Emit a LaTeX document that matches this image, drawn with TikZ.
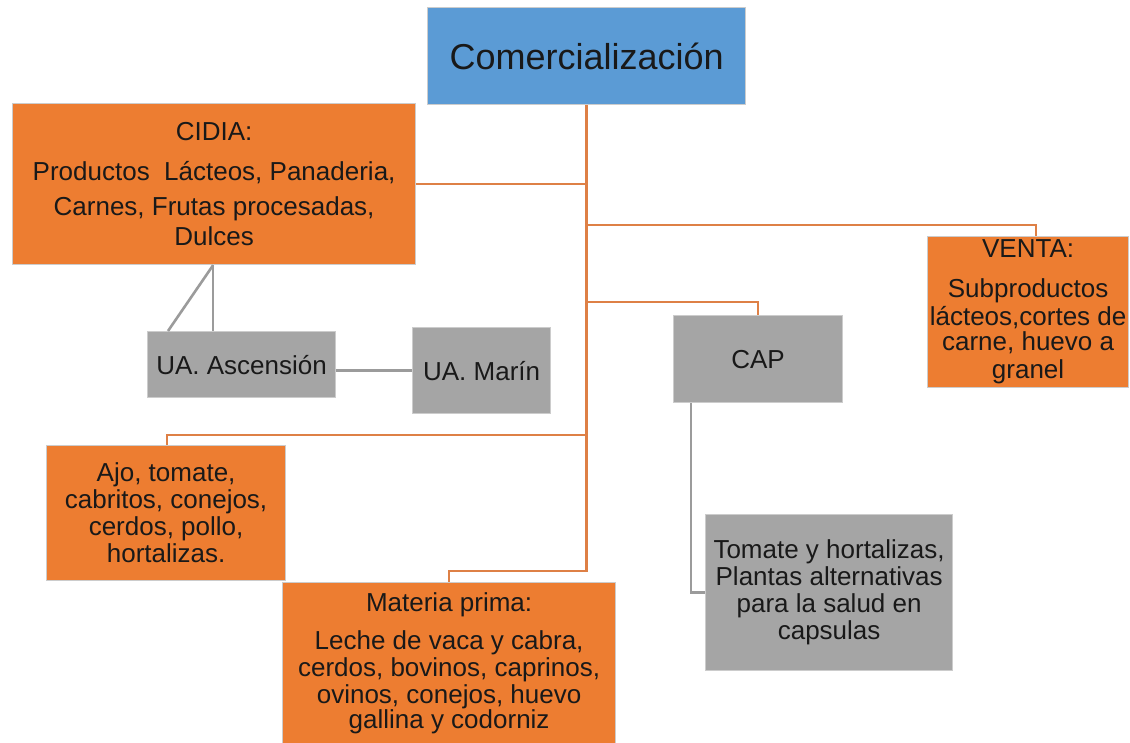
\documentclass[tikz,border=0pt]{standalone}
\usepackage{fontspec}
\setmainfont{Liberation Sans}
\usepackage{xcolor}
\usetikzlibrary{positioning,calc}
\definecolor{comblue}{RGB}{91,155,213}
\definecolor{ciorange}{RGB}{237,125,49}
\definecolor{uagray}{RGB}{165,165,165}
\definecolor{lnorange}{RGB}{222,128,70}
\definecolor{lngray}{RGB}{155,155,155}
\begin{document}
\begin{tikzpicture}[x=1pt,y=-1pt,
        box/.style={draw=black!20,line width=1.2pt,anchor=north west,
                    font=\fontsize{26}{28}\selectfont,align=center,
                    inner sep=0pt,text=black!90},
        obox/.style={box,fill=ciorange},
        gbox/.style={box,fill=uagray},
        bbox/.style={box,fill=comblue,font=\fontsize{36}{40}\selectfont},
        oline/.style={lnorange,line width=2.6pt},
        gline/.style={lngray,line width=2.6pt},
      ]
        \useasboundingbox (0,0) rectangle (1130,742);
        \node[bbox,minimum width=318pt,minimum height=97pt](com) at (427,7){Comercialización};
        \node[obox,minimum width=403pt,minimum height=161pt](cidia) at (12,103)
            {CIDIA:\\[12pt]Productos~~Lácteos, Panaderia,\\[7pt]Carnes, Frutas procesadas,\\[2pt]Dulces};
        \node[gbox,minimum width=188pt,minimum height=66pt](asc) at (147,331){UA. Ascensión};
        \node[gbox,minimum width=138pt,minimum height=86pt](marin) at (412,327){UA. Marín};
        \node[gbox,minimum width=169pt,minimum height=87pt](cap) at (673,315){CAP};
        \node[obox,minimum width=201pt,minimum height=151pt](venta) at (927,236)
            {VENTA:\\[12pt]Subproductos\\lácteos,cortes de\\[-3pt]carne, huevo a\\granel};
        \node[obox,minimum width=239pt,minimum height=135pt](ajo) at (46,445)
            {Ajo, tomate,\\[-1pt]cabritos, conejos,\\[-1pt]cerdos, pollo,\\[-1pt]hortalizas.};
        \node[obox,minimum width=333pt,minimum height=162pt](mat) at (282,582)
            {Materia prima:\\[10pt]Leche de vaca y cabra,\\[-1pt]cerdos, bovinos, caprinos,\\[-1pt]ovinos, conejos, huevo\\[-3pt]gallina y codorniz};
        \node[gbox,minimum width=247pt,minimum height=156pt](tom) at (705,514)
            {Tomate y hortalizas,\\[-1pt]Plantas alternativas\\[-1pt]para la salud en\\[-1pt]capsulas};
        % orange tree
        \draw[oline](com.south)|-(cidia.east);
        \draw[oline](com.south)|-([yshift=11pt,xshift=8pt]venta.north)--([xshift=8pt]venta.north);
        \draw[oline](com.south)|-([yshift=13pt]cap.north)--(cap.north);
        \draw[oline](com.south)|-([yshift=10pt,xshift=1pt]ajo.north)--([xshift=1pt]ajo.north);
        \draw[oline](com.south)|-([yshift=11pt]mat.north)--(mat.north);
        % gray links
        \draw[gline]([xshift=-1pt]cidia.south)--([xshift=-1pt]cidia.south|-asc.north);
        \draw[gline]([xshift=-1pt]cidia.south)--([xshift=21pt]asc.north west);
        \draw[gline](asc.east|-marin.west)--(marin.west);
        \draw[gline]([xshift=-67pt]cap.south)|-(tom.west);
      \end{tikzpicture}
\end{document}
